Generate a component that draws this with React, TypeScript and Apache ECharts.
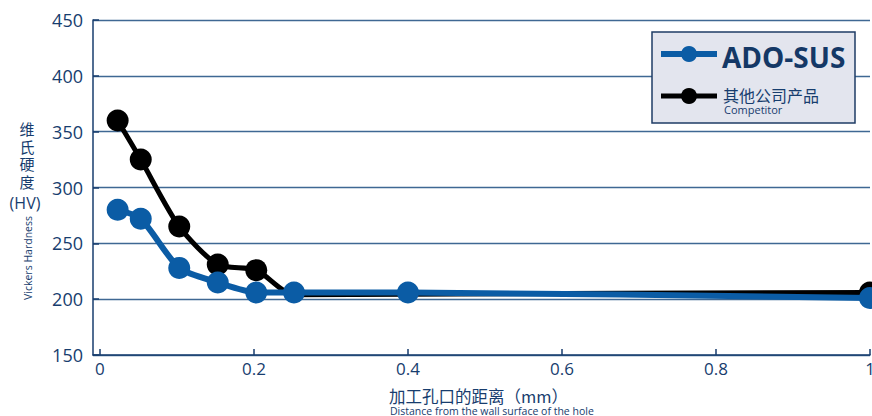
import React, { useEffect, useRef } from "react";
import * as echarts from "echarts";

const xTicks = [0, 0.2, 0.4, 0.6, 0.8, 1];
const yTicks = [150, 200, 250, 300, 350, 400, 450];

const adoX = [0.023, 0.053, 0.103, 0.153, 0.203, 0.252, 0.4, 1];
const adoY = [280, 272, 228, 215, 206, 206, 206, 201];

const compX = [0.023, 0.053, 0.103, 0.153, 0.203, 0.252, 0.4, 1];
const compY = [360, 325, 265, 231, 226, 204, 204.5, 206];
const compHidden = [false, false, false, false, false, true, true, false];

const legendMain = "ADO-SUS";
const legendComp = "其他公司产品";
const legendCompEn = "Competitor";
const yNameZh = ["维", "氏", "硬", "度"];
const yNameHV = "(HV)";
const yNameEn = "Vickers Hardness";
const xNameZh = "加工孔口的距离（mm）";
const xNameEn = "Distance from the wall surface of the hole";

const NAVY = "#173d6e";
const BLUE = "#0b5ca5";
const FONT = "'Open Sans', 'Noto Sans', 'Noto Sans CJK SC', sans-serif";
const CJK = "'Noto Sans CJK SC', 'Noto Sans', sans-serif";

export default function App() {
  const ref = useRef<HTMLDivElement>(null);
  useEffect(() => {
    if (!ref.current) return;
    const chart = echarts.init(ref.current, null, { renderer: "svg" });
    const pair = (xs: number[], ys: number[]) => xs.map((x, i) => [x, ys[i]]);
    chart.setOption({
      animation: false,
      backgroundColor: "#ffffff",
      grid: { left: 93, top: 20, right: 2, bottom: 61, containLabel: false, outerBoundsMode: "none" },
      xAxis: {
        type: "value",
        min: -0.009,
        max: 1,
        axisLine: { show: true, onZero: false, lineStyle: { color: NAVY, width: 1.5 } },
        axisTick: { show: true, inside: true, length: 6, customValues: xTicks, lineStyle: { color: NAVY, width: 1.5 } },
        splitLine: { show: false },
        axisLabel: {
          customValues: xTicks,
          color: NAVY,
          fontSize: 17,
          fontFamily: FONT,
          margin: 5,
          formatter: (v: number) => String(Math.round(v * 10) / 10),
        },
      },
      yAxis: {
        type: "value",
        min: 150,
        max: 450,
        interval: 50,
        axisLine: { show: true, onZero: false, lineStyle: { color: NAVY, width: 1.5 } },
        axisTick: { show: true, inside: true, length: 6, lineStyle: { color: NAVY, width: 1.5 } },
        splitLine: { show: true, lineStyle: { color: "#3f6893", width: 1.3 } },
        axisLabel: {
          color: NAVY,
          fontSize: 18,
          fontFamily: FONT,
          margin: 10,
          customValues: yTicks,
        },
      },
      series: [
        {
          name: "Competitor",
          type: "line",
          data: compX.map((x, i) =>
            compHidden[i] ? { value: [x, compY[i]], symbol: "none" } : { value: [x, compY[i]] }
          ),
          smooth: 0.25,
          symbol: "circle",
          symbolSize: 22,
          itemStyle: { color: "#000000" },
          lineStyle: { color: "#000000", width: 5 },
          z: 2,
        },
        {
          name: "ADO-SUS",
          type: "line",
          data: pair(adoX, adoY),
          smooth: 0.25,
          symbol: "circle",
          symbolSize: 22,
          itemStyle: { color: BLUE },
          lineStyle: { color: BLUE, width: 6 },
          z: 3,
        },
      ],
      graphic: [
        {
          type: "rect",
          shape: { x: 652, y: 32, width: 203, height: 91 },
          style: { fill: "#e3e5ee", stroke: "#1f3c66", lineWidth: 1.5 },
          z: 10,
        },
        { type: "line", shape: { x1: 661, y1: 54, x2: 717, y2: 54 }, style: { stroke: BLUE, lineWidth: 6 }, z: 11 },
        { type: "circle", shape: { cx: 689, cy: 54, r: 8 }, style: { fill: BLUE }, z: 11 },
        {
          type: "text",
          x: 722,
          y: 57,
          style: { text: legendMain, fill: "#143866", font: `bold 28px ${FONT}`, textVerticalAlign: "middle" },
          z: 11,
        },
        { type: "line", shape: { x1: 661, y1: 96, x2: 717, y2: 96 }, style: { stroke: "#000", lineWidth: 5 }, z: 11 },
        { type: "circle", shape: { cx: 689, cy: 96, r: 8 }, style: { fill: "#000" }, z: 11 },
        {
          type: "text",
          x: 723,
          y: 86,
          style: {
            text: `{a|${legendComp}}\n{b|${legendCompEn}}`,
            fill: NAVY,
            rich: {
              a: { fontSize: 16, fontFamily: CJK, fill: NAVY, lineHeight: 17 },
              b: { fontSize: 11, fontFamily: FONT, fill: NAVY, lineHeight: 12, padding: [0, 0, 0, 1] },
            },
          },
          z: 11,
        },
        {
          type: "text",
          x: 27,
          y: 120,
          style: {
            text: yNameZh.join("\n"),
            fill: NAVY,
            font: `15px ${CJK}`,
            lineHeight: 17.5,
            textAlign: "center",
          },
        },
        {
          type: "text",
          x: 25,
          y: 203,
          style: { text: yNameHV, fill: NAVY, font: `16px ${FONT}`, textAlign: "center", textVerticalAlign: "middle" },
        },
        {
          type: "text",
          x: 28,
          y: 258,
          rotation: Math.PI / 2,
          style: { text: yNameEn, fill: NAVY, font: `10.5px ${FONT}`, textAlign: "center", textVerticalAlign: "middle" },
        },
        {
          type: "text",
          x: 389,
          y: 386,
          style: {
            text: `{a|${xNameZh}}\n{b|${xNameEn}}`,
            fill: NAVY,
            rich: {
              a: { fontSize: 16.5, fontFamily: CJK, fill: NAVY, lineHeight: 19 },
              b: { fontSize: 10.5, fontFamily: FONT, fill: NAVY, lineHeight: 11, padding: [0, 0, 0, 1] },
            },
          },
        },
      ],
    });
    return () => chart.dispose();
  }, []);
  return <div ref={ref} style={{ position: "fixed", left: 0, top: 0, width: 872, height: 416 }} />;
}
